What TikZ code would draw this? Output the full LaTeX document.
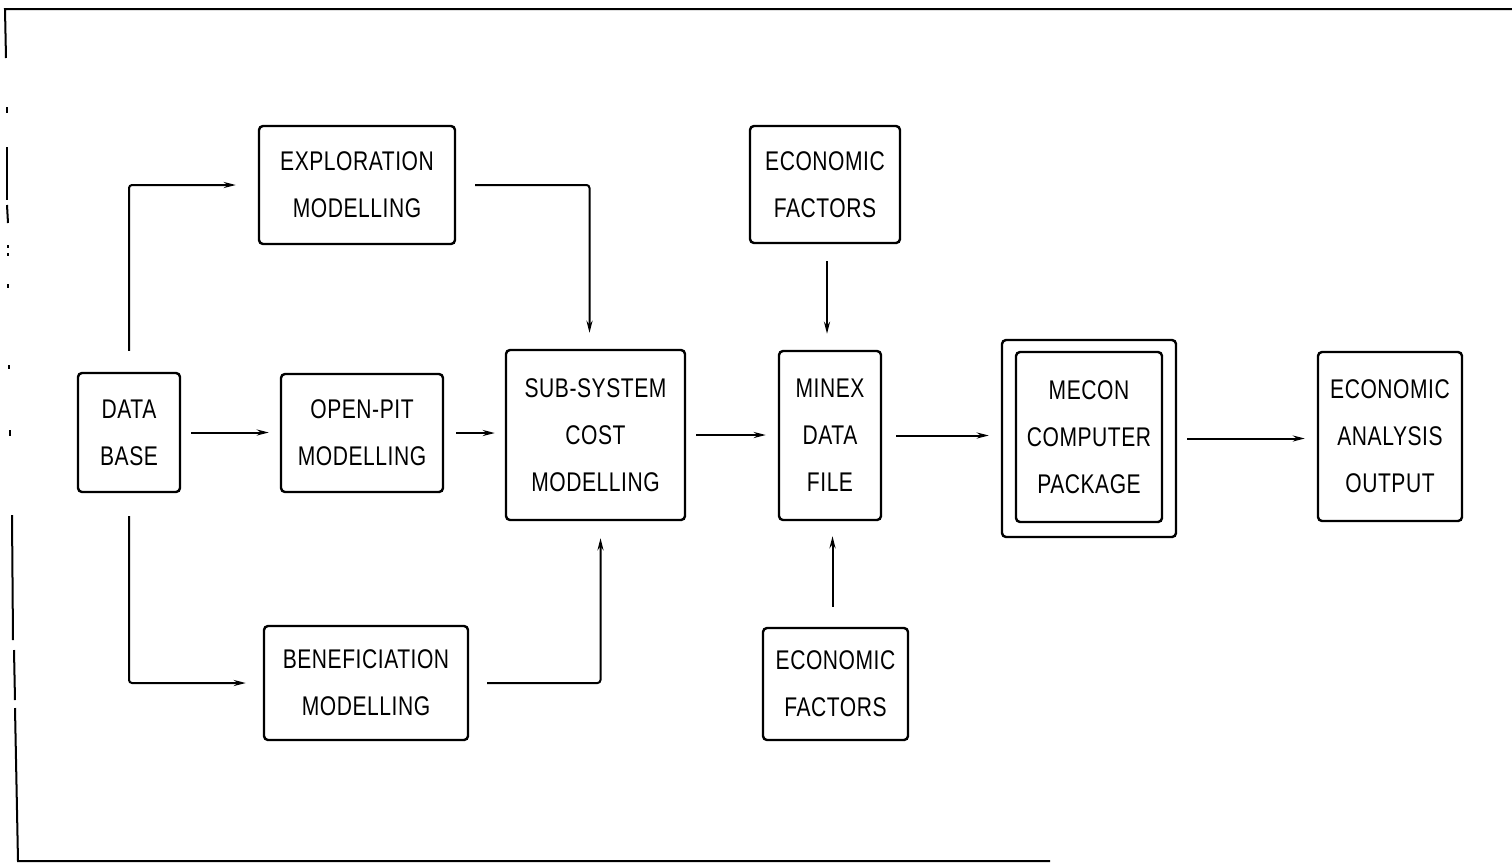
\documentclass[tikz,border=0pt]{standalone}
\usepackage{fontspec}
\setmainfont{Liberation Sans}[FakeStretch=0.78,LetterSpace=2]
\usetikzlibrary{arrows.meta}
\begin{document}
\begin{tikzpicture}[x=1pt,y=-1pt,
  box/.style={draw, line width=2.4pt, rounded corners=4pt, align=center,
    font=\fontsize{27}{47}\selectfont, inner sep=0pt},
  arr/.style={line width=2pt, -{Stealth[length=12pt,width=6pt]}},
  frame/.style={line width=2pt}]
\useasboundingbox (0,0) rectangle (1512,863);
% frame
\draw[frame] (6,58) -- (5,9) -- (1512,9);
\draw[frame] (7,107) -- (7,113);
\draw[frame] (7,147) -- (7,200);
\draw[frame] (7,205) -- (8,223);
\draw[frame] (8,245) -- (8,248);
\draw[frame] (8,253) -- (8,256);
\draw[frame] (8,284) -- (8,288);
\draw[frame] (9,365) -- (9,369);
\draw[frame] (10,430) -- (10,436);
\draw[frame] (12,515) -- (13,640);
\draw[frame] (14,650) -- (15,700);
\draw[frame] (15,708) -- (18,861) -- (1050,861);
% boxes
\node[box, minimum width=196pt, minimum height=118pt] (expl) at (357,185) {EXPLORATION\\MODELLING};
\node[box, minimum width=150pt, minimum height=117pt] (econa) at (825,184.5) {ECONOMIC\\FACTORS};
\node[box, minimum width=102pt, minimum height=119pt] (db) at (129,432.5) {DATA\\BASE};
\node[box, minimum width=162pt, minimum height=118pt] (open) at (362,433) {OPEN-PIT\\MODELLING};
\node[box, minimum width=179pt, minimum height=170pt] (sub) at (595.5,435) {SUB-SYSTEM\\COST\\MODELLING};
\node[box, minimum width=102pt, minimum height=169pt] (minex) at (830,435.5) {MINEX\\DATA\\FILE};
\node[box, minimum width=174pt, minimum height=197pt] (mecon) at (1089,438.5) {};
\node[box, minimum width=146pt, minimum height=170pt] (meconin) at (1089,437) {MECON\\COMPUTER\\PACKAGE};
\node[box, minimum width=144pt, minimum height=169pt] (out) at (1390,436.5) {ECONOMIC\\ANALYSIS\\OUTPUT};
\node[box, minimum width=204pt, minimum height=114pt] (benef) at (366,683) {BENEFICIATION\\MODELLING};
\node[box, minimum width=145pt, minimum height=112pt] (econb) at (835.5,684) {ECONOMIC\\FACTORS};
% connectors
\draw[arr, rounded corners=3pt] ([yshift=21pt]db.north) |- ([xshift=-22pt]expl.west);
\draw[arr, rounded corners=3pt] ([yshift=-23pt]db.south) |- ([xshift=-17pt]benef.west);
\draw[arr] ([xshift=10pt]db.east) -- ([xshift=-11pt]open.west |- db.east);
\draw[arr] ([xshift=12pt]open.east) -- ([xshift=-10pt]sub.west |- open.east);
\draw[arr, rounded corners=3pt] ([xshift=19pt]expl.east) -| ([xshift=-6pt,yshift=16pt]sub.north);
\draw[arr, rounded corners=3pt] ([xshift=18pt]benef.east) -| ([xshift=5pt,yshift=-17pt]sub.south);
\draw[arr] ([xshift=10pt]sub.east) -- ([xshift=-12pt]minex.west |- sub.east);
\draw[arr] ([xshift=2pt,yshift=-17pt]econa.south) -- ([xshift=2pt,yshift=16pt]econa.south |- minex.north);
\draw[arr] ([xshift=-3pt,yshift=20pt]econb.north) -- ([xshift=-3pt,yshift=-15pt]econb.north |- minex.south);
\draw[arr] ([xshift=14pt]minex.east) -- ([xshift=-12pt]mecon.west |- minex.east);
\draw[arr] ([xshift=10pt]mecon.east) -- ([xshift=-12pt]out.west |- mecon.east);
\end{tikzpicture}
\end{document}
